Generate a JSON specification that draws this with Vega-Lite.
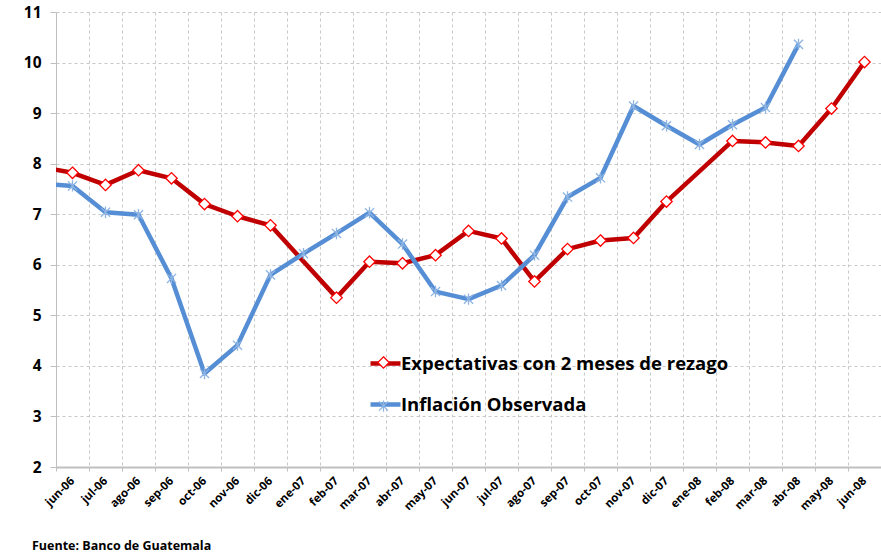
{
  "$schema": "https://vega.github.io/schema/vega-lite/v6.json",
  "width": 825,
  "height": 455,
  "autosize": {"type": "none"},
  "padding": {"left": 56, "top": 12, "right": 0, "bottom": 86},
  "background": "white",
  "config": {"font": "Open Sans", "view": {"stroke": null}},
  "title": {"text": "Fuente: Banco de Guatemala", "orient": "bottom", "anchor": "start", "frame": "group", "offset": 28, "dx": -24, "font": "Open Sans", "fontSize": 12.5, "fontWeight": "bold", "color": "black"},
  "data": {"values": [
    {"mes": "may-06", "i": -1, "serie": "Expectativas con 2 meses de rezago", "cod": "E", "valor": 7.94},
    {"mes": "jun-06", "i": 0, "serie": "Expectativas con 2 meses de rezago", "cod": "E", "valor": 7.82},
    {"mes": "jul-06", "i": 1, "serie": "Expectativas con 2 meses de rezago", "cod": "E", "valor": 7.58},
    {"mes": "ago-06", "i": 2, "serie": "Expectativas con 2 meses de rezago", "cod": "E", "valor": 7.87},
    {"mes": "sep-06", "i": 3, "serie": "Expectativas con 2 meses de rezago", "cod": "E", "valor": 7.71},
    {"mes": "oct-06", "i": 4, "serie": "Expectativas con 2 meses de rezago", "cod": "E", "valor": 7.20},
    {"mes": "nov-06", "i": 5, "serie": "Expectativas con 2 meses de rezago", "cod": "E", "valor": 6.96},
    {"mes": "dic-06", "i": 6, "serie": "Expectativas con 2 meses de rezago", "cod": "E", "valor": 6.78},
    {"mes": "feb-07", "i": 8, "serie": "Expectativas con 2 meses de rezago", "cod": "E", "valor": 5.35},
    {"mes": "mar-07", "i": 9, "serie": "Expectativas con 2 meses de rezago", "cod": "E", "valor": 6.06},
    {"mes": "abr-07", "i": 10, "serie": "Expectativas con 2 meses de rezago", "cod": "E", "valor": 6.03},
    {"mes": "may-07", "i": 11, "serie": "Expectativas con 2 meses de rezago", "cod": "E", "valor": 6.19},
    {"mes": "jun-07", "i": 12, "serie": "Expectativas con 2 meses de rezago", "cod": "E", "valor": 6.67},
    {"mes": "jul-07", "i": 13, "serie": "Expectativas con 2 meses de rezago", "cod": "E", "valor": 6.52},
    {"mes": "ago-07", "i": 14, "serie": "Expectativas con 2 meses de rezago", "cod": "E", "valor": 5.67},
    {"mes": "sep-07", "i": 15, "serie": "Expectativas con 2 meses de rezago", "cod": "E", "valor": 6.31},
    {"mes": "oct-07", "i": 16, "serie": "Expectativas con 2 meses de rezago", "cod": "E", "valor": 6.48},
    {"mes": "nov-07", "i": 17, "serie": "Expectativas con 2 meses de rezago", "cod": "E", "valor": 6.53},
    {"mes": "dic-07", "i": 18, "serie": "Expectativas con 2 meses de rezago", "cod": "E", "valor": 7.25},
    {"mes": "feb-08", "i": 20, "serie": "Expectativas con 2 meses de rezago", "cod": "E", "valor": 8.45},
    {"mes": "mar-08", "i": 21, "serie": "Expectativas con 2 meses de rezago", "cod": "E", "valor": 8.42},
    {"mes": "abr-08", "i": 22, "serie": "Expectativas con 2 meses de rezago", "cod": "E", "valor": 8.35},
    {"mes": "may-08", "i": 23, "serie": "Expectativas con 2 meses de rezago", "cod": "E", "valor": 9.09},
    {"mes": "jun-08", "i": 24, "serie": "Expectativas con 2 meses de rezago", "cod": "E", "valor": 10.01},
    {"mes": "may-06", "i": -1, "serie": "Inflación Observada", "cod": "I", "valor": 7.61},
    {"mes": "jun-06", "i": 0, "serie": "Inflación Observada", "cod": "I", "valor": 7.56},
    {"mes": "jul-06", "i": 1, "serie": "Inflación Observada", "cod": "I", "valor": 7.04},
    {"mes": "ago-06", "i": 2, "serie": "Inflación Observada", "cod": "I", "valor": 6.99},
    {"mes": "sep-06", "i": 3, "serie": "Inflación Observada", "cod": "I", "valor": 5.73},
    {"mes": "oct-06", "i": 4, "serie": "Inflación Observada", "cod": "I", "valor": 3.85},
    {"mes": "nov-06", "i": 5, "serie": "Inflación Observada", "cod": "I", "valor": 4.41},
    {"mes": "dic-06", "i": 6, "serie": "Inflación Observada", "cod": "I", "valor": 5.80},
    {"mes": "ene-07", "i": 7, "serie": "Inflación Observada", "cod": "I", "valor": 6.22},
    {"mes": "feb-07", "i": 8, "serie": "Inflación Observada", "cod": "I", "valor": 6.62},
    {"mes": "mar-07", "i": 9, "serie": "Inflación Observada", "cod": "I", "valor": 7.03},
    {"mes": "abr-07", "i": 10, "serie": "Inflación Observada", "cod": "I", "valor": 6.41},
    {"mes": "may-07", "i": 11, "serie": "Inflación Observada", "cod": "I", "valor": 5.47},
    {"mes": "jun-07", "i": 12, "serie": "Inflación Observada", "cod": "I", "valor": 5.32},
    {"mes": "jul-07", "i": 13, "serie": "Inflación Observada", "cod": "I", "valor": 5.59},
    {"mes": "ago-07", "i": 14, "serie": "Inflación Observada", "cod": "I", "valor": 6.19},
    {"mes": "sep-07", "i": 15, "serie": "Inflación Observada", "cod": "I", "valor": 7.34},
    {"mes": "oct-07", "i": 16, "serie": "Inflación Observada", "cod": "I", "valor": 7.72},
    {"mes": "nov-07", "i": 17, "serie": "Inflación Observada", "cod": "I", "valor": 9.14},
    {"mes": "dic-07", "i": 18, "serie": "Inflación Observada", "cod": "I", "valor": 8.75},
    {"mes": "ene-08", "i": 19, "serie": "Inflación Observada", "cod": "I", "valor": 8.38},
    {"mes": "feb-08", "i": 20, "serie": "Inflación Observada", "cod": "I", "valor": 8.77},
    {"mes": "mar-08", "i": 21, "serie": "Inflación Observada", "cod": "I", "valor": 9.11},
    {"mes": "abr-08", "i": 22, "serie": "Inflación Observada", "cod": "I", "valor": 10.36}
  ]},
  "encoding": {
    "x": {"field": "i", "type": "quantitative", "scale": {"domain": [-0.5, 24.5], "nice": false, "zero": false},
      "axis": {"title": null, "values": [-0.5, 0.5, 1.5, 2.5, 3.5, 4.5, 5.5, 6.5, 7.5, 8.5, 9.5, 10.5, 11.5, 12.5, 13.5, 14.5, 15.5, 16.5, 17.5, 18.5, 19.5, 20.5, 21.5, 22.5, 23.5, 24.5],
        "grid": true, "gridDash": [3, 3], "gridColor": "#C8C8C8", "gridWidth": 1,
        "ticks": true, "tickSize": 4, "tickColor": "#BFBFBF",
        "domain": true, "domainColor": "#BFBFBF", "domainWidth": 2,
        "labelAngle": -45, "labelAlign": "right", "labelBaseline": "middle", "labelOffset": 16.5, "labelPadding": 8,
        "labelFont": "Open Sans", "labelFontSize": 11.5, "labelFontWeight": "bold", "labelColor": "black",
        "labelFlush": false, "labelOverlap": false, "labelBound": false,
        "labelExpr": "datum.value > 24 ? '' : ['jun-06','jul-06','ago-06','sep-06','oct-06','nov-06','dic-06','ene-07','feb-07','mar-07','abr-07','may-07','jun-07','jul-07','ago-07','sep-07','oct-07','nov-07','dic-07','ene-08','feb-08','mar-08','abr-08','may-08','jun-08'][round(datum.value + 0.5)]"}},
    "y": {"field": "valor", "type": "quantitative", "scale": {"domain": [2, 11], "nice": false, "zero": false},
      "axis": {"title": null, "values": [2, 3, 4, 5, 6, 7, 8, 9, 10, 11],
        "grid": true, "gridDash": [3, 3], "gridColor": "#C8C8C8", "gridWidth": 1,
        "ticks": true, "tickSize": 6, "tickColor": "#BFBFBF",
        "domain": true, "domainColor": "#BFBFBF", "domainWidth": 1,
        "labelFont": "Open Sans", "labelFontSize": 15.5, "labelFontWeight": "bold", "labelColor": "black", "labelPadding": 9}}
  },
  "layer": [
    {
      "mark": {"type": "line", "strokeWidth": 4.5, "clip": true, "strokeJoin": "round"},
      "encoding": {
        "stroke": {"field": "serie", "type": "nominal",
          "scale": {"domain": ["Expectativas con 2 meses de rezago", "Inflación Observada"], "range": ["#C00000", "#558ED5"]},
          "legend": {"title": null, "orient": "none", "legendX": 312, "legendY": 334, "padding": 0,
            "symbolType": "stroke", "symbolSize": 900, "symbolStrokeWidth": 4.5, "rowPadding": 14,
            "labelFont": "Open Sans", "labelFontSize": 18.5, "labelFontWeight": "bold", "labelColor": "black", "labelOffset": -2, "labelLimit": 500}}
      }
    },
    {
      "mark": {"type": "point", "filled": false, "fill": "white", "fillOpacity": 1, "strokeWidth": 1.3, "size": 130, "clip": true, "opacity": 1},
      "encoding": {
        "shape": {"field": "cod", "type": "nominal",
          "scale": {"domain": ["E", "I"], "range": ["M0,-1L1,0L0,1L-1,0Z", "M-0.8,-0.8L0.8,0.8M-0.8,0.8L0.8,-0.8M0,-1L0,1"]},
          "legend": {"title": null, "orient": "none", "legendX": 321, "legendY": 344, "padding": 0,
            "symbolSize": 130, "symbolStrokeWidth": 1.3, "symbolFillColor": "white", "rowPadding": 26.6,
            "labelExpr": "''", "labelFontSize": 1, "labelOffset": 0}},
        "color": {"field": "cod", "type": "nominal", "scale": {"domain": ["E", "I"], "range": ["#FF0000", "#8DB4E2"]}}
      }
    }
  ]
}
